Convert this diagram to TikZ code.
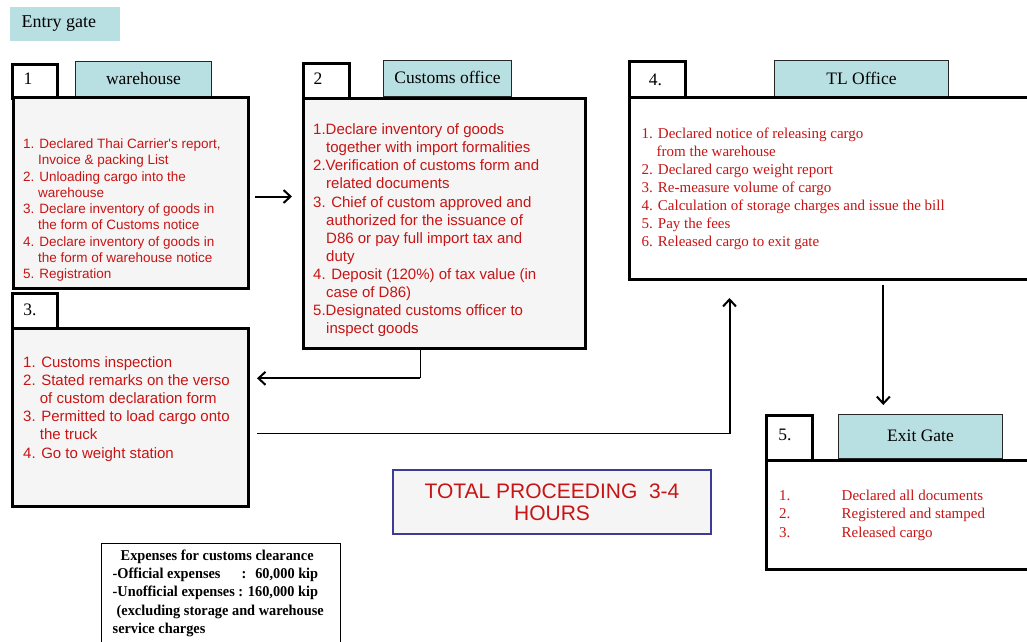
\documentclass[tikz,border=0pt]{standalone}
\usepackage{fontspec}
\setmainfont{Liberation Serif}
\newfontfamily\arialf{Liberation Sans}
\newfontfamily\expfont[FakeStretch=0.955]{Liberation Serif}
\usetikzlibrary{arrows.meta,calc}
\definecolor{tabblue}{HTML}{B8DFE2}
\definecolor{boxgray}{HTML}{F5F5F5}
\definecolor{txtred}{RGB}{200,20,20}
\definecolor{totblue}{RGB}{60,60,150}
\begin{document}
\begin{tikzpicture}[x=1pt,y=-1pt,
  numbox/.style={draw=black, line width=2.5pt, fill=white, anchor=north west, inner sep=0pt},
  numtxt/.style={inner sep=0pt, font=\fontsize{17.5}{20}\selectfont},
  tabbox/.style={draw=black!85, line width=1pt, fill=tabblue, anchor=north west, inner sep=0pt, font=\fontsize{17.5}{20}\selectfont},
  mainbox/.style={draw=black, line width=2.5pt, anchor=north west, inner sep=0pt},
  sanslist/.style={anchor=north west, inner sep=0pt, align=left, text=txtred},
  seriflist/.style={anchor=north west, inner sep=0pt, align=left, text=txtred, font=\fontsize{15}{18}\selectfont},
  arr/.style={line width=2pt, -{Straight Barb[length=7pt,width=13pt]}},
  thinline/.style={line width=1pt}
]
\useasboundingbox (0,0) rectangle (1027,641);

% Entry gate
\node[fill=tabblue, anchor=north west, inner sep=0pt, minimum width=110pt, minimum height=34pt] (entry) at (10,7) {};
\node[anchor=west, inner sep=0pt, font=\fontsize{18}{20}\selectfont] (entrytxt) at (21.5,23.5) {Entry gate};

% Box 1 warehouse
\node[tabbox, minimum width=136pt, minimum height=35pt, text depth=1.5pt] (tab1) at (75,61) {warehouse};
\node[numbox, minimum width=45pt, minimum height=34pt] (num1) at (11,63) {};
\node[mainbox, fill=boxgray, minimum width=235pt, minimum height=191pt] (b1) at (12,96) {};
\node[numtxt] (num1t) at (28,79) {1};
\node[sanslist, font=\arialf\fontsize{13.5}{16.25}\selectfont] (b1txt) at (23,138.6) {%
1. Declared Thai Carrier's report,\\
\hspace*{15pt}Invoice \& packing List\\
2. Unloading cargo into the\\
\hspace*{15pt}warehouse\\
3. Declare inventory of goods in\\
\hspace*{15pt}the form of Customs notice\\
4. Declare inventory of goods in\\
\hspace*{15pt}the form of warehouse notice\\
5. Registration};

% Box 2 customs office
\node[tabbox, minimum width=128pt, minimum height=36pt, text depth=1.5pt] (tab2) at (383,60) {Customs office};
\node[numbox, minimum width=46pt, minimum height=35pt] (num2) at (302,62) {};
\node[mainbox, fill=boxgray, minimum width=282pt, minimum height=250pt] (b2) at (302,97) {};
\node[numtxt] (num2t) at (318,79) {2};
\node[sanslist, font=\arialf\fontsize{15}{18.1}\selectfont] (b2txt) at (313,123.6) {%
1.Declare inventory of goods\\
\hspace*{13pt}together with import formalities\\
2.Verification of customs form and\\
\hspace*{13pt}related documents\\
3. Chief of custom approved and\\
\hspace*{13pt}authorized for the issuance of\\
\hspace*{13pt}D86 or pay full import tax and\\
\hspace*{13pt}duty\\
4. Deposit (120\%) of tax value (in\\
\hspace*{13pt}case of D86)\\
5.Designated customs officer to\\
\hspace*{13pt}inspect goods};

% Box 3
\node[numbox, minimum width=45pt, minimum height=35pt] (num3) at (11,292) {};
\node[mainbox, fill=boxgray, minimum width=236pt, minimum height=178pt] (b3) at (11,327) {};
\node[numtxt] (num3t) at (30,309.5) {3.};
\node[sanslist, font=\arialf\fontsize{15}{18.2}\selectfont] (b3txt) at (23,356) {%
1. Customs inspection\\
2. Stated remarks on the verso\\
\hspace*{16.7pt}of custom declaration form\\
3. Permitted to load cargo onto\\
\hspace*{16.7pt}the truck\\
4. Go to weight station};

% Box 4 TL office
\node[tabbox, minimum width=174pt, minimum height=36pt] (tab4) at (774,60) {TL Office};
\node[numbox, minimum width=56pt, minimum height=37pt] (num4) at (628,60) {};
\node[mainbox, fill=white, minimum width=401pt, minimum height=182pt] (b4) at (628,96) {};
\node[numtxt] (num4t) at (655.5,79.5) {4.};
\node[seriflist, font=\fontsize{15}{17.9}\selectfont] (b4txt) at (641.5,128.1) {%
1. Declared notice of releasing cargo\\
\hspace*{15pt}from the warehouse\\
2. Declared cargo weight report\\
3. Re-measure volume of cargo\\
4. Calculation of storage charges and issue the bill\\
5. Pay the fees\\
6. Released cargo to exit gate};

% Box 5 exit gate
\node[tabbox, minimum width=164pt, minimum height=44pt, text depth=1.5pt] (tab5) at (838,414) {Exit Gate};
\node[numbox, minimum width=46pt, minimum height=45pt] (num5) at (765,414) {};
\node[mainbox, fill=white, minimum width=264pt, minimum height=109pt] (b5) at (765,459) {};
\node[numtxt] (num5t) at (785,434.5) {5.};
\node[seriflist, font=\fontsize{15}{18.3}\selectfont] (b5txt) at (779,489.8) {%
\makebox[62.5pt][l]{1.}Declared all documents\\
\makebox[62.5pt][l]{2.}Registered and stamped\\
\makebox[62.5pt][l]{3.}Released cargo};

% Total
\node[draw=totblue, line width=2pt, fill=boxgray, anchor=north west, inner sep=0pt,
      minimum width=318pt, minimum height=64pt, align=center, text=txtred,
      font=\arialf\fontsize{21}{22}\selectfont] (tot) at (392,469) {TOTAL PROCEEDING\ \ 3-4\\HOURS};

% Expenses
\node[draw=black, line width=1pt, fill=white, anchor=north west, inner sep=0pt,
      minimum width=239pt, minimum height=105pt] (exp) at (101,543) {};
\node[anchor=north west, inner sep=0pt, align=left, font=\expfont\bfseries\fontsize{15}{18.2}\selectfont] (exptxt) at (112.5,549.8) {%
\hspace*{8pt}Expenses for customs clearance\\
-Official expenses\hspace{21pt}:\hspace{9pt}60,000 kip\\
-Unofficial expenses : 160,000 kip\\
\hspace*{4pt}(excluding storage and warehouse\\
service charges};

% Connectors
\coordinate (a12s) at (255,196.5);
\coordinate (a12e) at (292,196.5);
\draw[arr] (a12s) -- (a12e);

\coordinate (a23s) at (420,347);
\coordinate (a23m) at (420,378.3);
\coordinate (a23e) at (257,378.3);
\draw[thinline] (a23s) -- (a23m);
\draw[arr] (a23m) -- (a23e);

\coordinate (a34s) at (257,433);
\coordinate (a34m) at (729.5,433);
\coordinate (a34e) at (729.5,298);
\draw[thinline] (a34s) -- (a34m);
\draw[arr] ($(a34m)+(0,1)$) -- (a34e);

\coordinate (a45s) at (883.3,285);
\coordinate (a45e) at (883.3,405);
\draw[arr] (a45s) -- (a45e);
\end{tikzpicture}
\end{document}
